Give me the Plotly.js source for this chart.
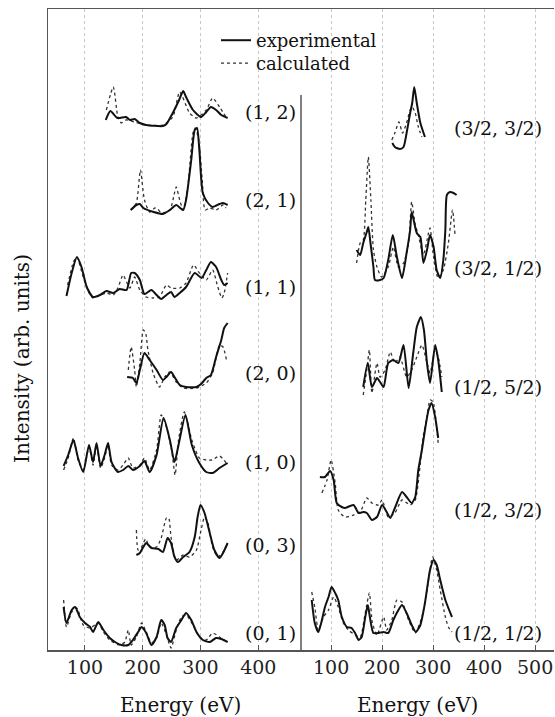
<!DOCTYPE html>
<html>
<head>
<meta charset="utf-8">
<script src="https://cdn.plot.ly/plotly-3.0.1.min.js"></script>
<style>html,body{margin:0;padding:0;background:#fff;}#chart{width:555px;height:717px;}</style>
</head>
<body>
<div id="chart"></div>
<script>
// ---------- data (energies in eV, intensities in arb. units above each baseline) ----------
const leftLabels  = ['(1, 2)', '(2, 1)', '(1, 1)', '(2, 0)', '(1, 0)', '(0, 3)', '(0, 1)'];
const rightLabels = ['(3/2, 3/2)', '(3/2, 1/2)', '(1/2, 5/2)', '(1/2, 3/2)', '(1/2, 1/2)'];
const leftOffsets  = [524, 436, 351, 262, 175, 88, 2];
const rightOffsets = [501, 370, 255, 130, 10];
const xTicksLeft  = [100, 200, 300, 400];
const xTicksRight = [100, 200, 300, 400, 500];

// (1, 2)
const expE_12 = [136,144,156,171,178,186,195,206,235,241,252,263,270,275,287,301,310,318,327,336,347];
const expI_12 = [6,15,8,9,6,7,3,1,0,2,13,26,35,29,16,9,14,19,16,11,8];
const calE_12 = [137,149,157,163,171,186,206,235,252,264,281,293,310,321,333,344];
const calI_12 = [16,39,9,3,6,4,1,1,9,34,13,8,16,28,19,9];
// (2, 1)
const expE_21 = [179,189,195,201,219,235,247,258,270,275,284,290,294,298,304,313,321,333,339,347];
const expI_21 = [4,9,10,6,2,0,4,9,4,14,54,84,86,64,21,11,7,10,11,9];
const calE_21 = [180,189,196,203,212,221,226,232,247,255,258,264,270,278,287,291,297,303,308,316,327,339,344];
const calI_21 = [4,11,44,14,2,6,5,1,4,21,27,14,4,27,81,86,74,34,4,6,4,9,6];
// (1, 1)
const expE_11 = [68,77,86,94,103,114,126,137,149,160,172,180,186,195,203,215,224,232,241,249,255,264,275,290,302,310,318,327,336,341,347];
const expI_11 = [3,26,42,32,12,2,4,8,6,10,9,26,26,19,5,9,4,0,4,7,2,6,12,26,21,29,37,32,19,14,16];
const calE_11 = [70,80,86,97,109,114,126,137,149,157,166,172,178,186,195,206,218,229,241,249,264,275,288,298,310,321,330,337,341,347];
const calI_11 = [14,37,42,22,4,1,4,6,4,11,24,17,11,22,9,2,1,2,14,11,11,16,34,26,19,29,12,1,6,26];
// (2, 0)
const expE_20 = [173,183,189,195,203,212,224,235,241,249,255,264,275,293,301,310,318,327,336,341,347];
const expI_20 = [11,10,5,18,35,28,18,8,11,16,11,3,1,1,4,10,13,31,48,60,65];
const calE_20 = [175,180,186,189,195,201,205,209,218,229,238,247,258,270,293,310,321,333,339,345];
const calI_20 = [18,41,18,1,25,58,55,38,15,1,11,16,6,0,0,5,15,43,41,28];
// (1, 0)
const expE_10 = [63,71,80,88,97,107,114,120,127,134,140,146,157,166,175,183,195,203,212,224,236,247,255,262,274,285,298,310,321,333,347];
const expI_10 = [9,20,35,17,3,30,13,32,9,20,32,13,3,5,9,5,9,14,3,20,57,35,13,30,60,30,12,3,2,7,12];
const calE_10 = [63,71,80,88,97,107,114,120,127,134,140,146,157,166,175,183,195,203,212,224,232,240,250,256,262,272,285,298,310,320,333,347];
const calI_10 = [5,17,37,15,5,28,10,30,7,17,30,10,5,10,17,7,10,17,5,25,60,50,25,0,35,63,35,17,15,15,19,10];
// (0, 3)
const expE_03 = [189,195,201,206,215,227,235,243,249,255,261,270,281,290,295,300,307,316,324,333,339,347];
const expI_03 = [7,9,15,19,14,13,10,24,19,5,0,5,10,25,45,57,49,29,12,4,9,19];
const calE_03 = [189,192,198,205,212,224,232,241,245,249,258,270,281,293,301,307,313,321,330,339,346];
const calI_03 = [32,12,15,23,15,15,24,44,44,25,2,7,5,12,32,45,39,15,5,10,17];
// (0, 1)
const expE_01 = [63,68,77,83,91,100,109,114,123,132,143,152,163,175,183,192,198,206,215,224,232,238,243,249,258,267,275,284,293,304,316,327,336,347];
const expI_01 = [41,25,38,41,31,25,21,16,26,18,10,6,3,3,8,16,21,15,3,11,28,23,10,6,20,28,35,28,16,8,6,10,9,6];
const calE_01 = [63,68,77,86,97,109,123,132,143,160,169,175,180,189,198,206,215,224,232,241,249,258,267,275,287,298,310,321,333,347];
const calI_01 = [48,21,36,40,23,20,25,16,8,3,6,18,3,11,25,16,5,10,25,13,0,18,31,33,23,11,8,15,11,6];

// (3/2, 3/2)
const expE_3232 = [220,225,235,242,248,255,259,263,268,275,284];
const expI_3232 = [6,2,0,2,16,36,46,62,46,26,12];
const calE_3232 = [219,225,233,240,248,255,259,265,271,278];
const calI_3232 = [9,16,27,16,26,39,42,36,22,12];
// (3/2, 1/2)
const expE_3212 = [150,157,163,170,173,177,183,186,196,203,212,221,229,239,248,255,258,268,275,281,288,294,301,307,314,320,324,327,333,340,346];
const expI_3212 = [30,25,37,48,53,38,13,0,0,2,20,45,23,2,27,50,68,47,43,17,30,45,33,10,2,20,50,85,88,87,85];
const calE_3212 = [150,157,163,168,173,178,183,190,199,212,222,232,242,252,258,265,271,281,291,294,301,310,320,330,338,343];
const calI_3212 = [17,37,40,80,123,80,30,13,3,13,33,13,17,37,78,55,45,25,47,52,23,2,10,37,70,45];
// (1/2, 5/2)
const expE_1252 = [163,172,180,190,196,203,212,222,232,242,252,261,268,276,282,288,294,304,310,317];
const expI_1252 = [8,32,8,17,13,8,32,35,32,50,7,42,68,78,65,32,12,50,35,3];
const calE_1252 = [163,170,175,180,190,196,206,216,225,235,248,258,268,278,288,294,304,310,317];
const calI_1252 = [0,25,45,2,32,18,25,43,32,38,18,25,38,50,32,22,45,38,18];
// (1/2, 3/2)
const expE_1232 = [78,88,98,105,111,121,127,144,154,163,170,180,190,200,209,216,225,239,248,258,265,271,278,284,291,297,304,310];
const expI_1232 = [43,43,49,40,17,13,12,15,7,8,7,0,3,15,8,2,12,28,23,17,23,50,70,90,110,117,103,82];
const calE_1232 = [82,92,100,108,114,127,144,157,170,180,193,200,212,225,239,255,265,275,281,288,294,300,306,310];
const calI_1232 = [27,40,60,37,10,3,5,8,22,17,15,20,3,7,20,15,20,57,85,103,120,118,97,77];
// (1/2, 1/2)
const expE_1212 = [62,68,75,82,88,95,101,108,114,121,131,140,147,154,160,167,172,176,183,193,203,212,222,232,239,248,258,266,275,284,294,301,307,314,324,337];
const expI_1212 = [40,17,8,20,33,43,53,47,40,23,13,12,7,0,3,23,35,23,7,7,8,7,20,30,35,27,15,8,15,37,70,80,75,60,40,23];
const calE_1212 = [62,68,75,85,95,105,114,124,134,147,157,167,175,181,190,203,209,219,229,239,252,265,278,288,299,307,314,324,330,337];
const calI_1212 = [48,33,10,23,30,43,33,17,10,5,3,27,47,17,5,23,10,20,40,38,20,7,23,50,83,70,50,23,13,8];

// ---------- assembly ----------
const leftSpectra = [
  [expE_12, expI_12, calE_12, calI_12],
  [expE_21, expI_21, calE_21, calI_21],
  [expE_11, expI_11, calE_11, calI_11],
  [expE_20, expI_20, calE_20, calI_20],
  [expE_10, expI_10, calE_10, calI_10],
  [expE_03, expI_03, calE_03, calI_03],
  [expE_01, expI_01, calE_01, calI_01]
];
const rightSpectra = [
  [expE_3232, expI_3232, calE_3232, calI_3232],
  [expE_3212, expI_3212, calE_3212, calI_3212],
  [expE_1252, expI_1252, calE_1252, calI_1252],
  [expE_1232, expI_1232, calE_1232, calI_1232],
  [expE_1212, expI_1212, calE_1212, calI_1212]
];

// label placement (layout, not data)
const leftLabelY  = [538, 450, 363, 277, 188, 105, 17];
const rightLabelY = [522, 382, 263, 140, 17];
const leftLabelX = 373, rightLabelX = 337;

const FONT = "'DejaVu Serif', serif";
const traces = [];
let legendDone = false;
function addSpectra(list, offsets, xa) {
  list.forEach((s, i) => {
    const off = offsets[i];
    traces.push({
      x: s[2], y: s[3].map(v => v + off), xaxis: xa, yaxis: 'y',
      type: 'scatter', mode: 'lines', name: 'calculated', legend: 'legend2',
      line: {color: '#333', width: 1.3, dash: 'dot', shape: 'spline', smoothing: 0.6},
      showlegend: !legendDone, hoverinfo: 'skip'
    });
    traces.push({
      x: s[0], y: s[1].map(v => v + off), xaxis: xa, yaxis: 'y',
      type: 'scatter', mode: 'lines', name: 'experimental', legend: 'legend',
      line: {color: '#111', width: 2, shape: 'spline', smoothing: 0.6},
      showlegend: !legendDone, hoverinfo: 'skip'
    });
    legendDone = true;
  });
}
addSpectra(leftSpectra, leftOffsets, 'x');
addSpectra(rightSpectra, rightOffsets, 'x2');

const annotations = [];
leftLabels.forEach((t, i) => annotations.push({
  text: t, xref: 'x', yref: 'y', x: leftLabelX, y: leftLabelY[i],
  xanchor: 'left', yanchor: 'middle', showarrow: false, font: {family: FONT, size: 19, color: '#111'}
}));
rightLabels.forEach((t, i) => annotations.push({
  text: t, xref: 'x2', yref: 'y', x: rightLabelX, y: rightLabelY[i],
  xanchor: 'left', yanchor: 'middle', showarrow: false, font: {family: FONT, size: 19, color: '#111'}
}));
annotations.push({text: 'Energy (eV)', xref: 'paper', yref: 'paper', x: 0.261, y: -0.0858,
  xanchor: 'center', yanchor: 'middle', showarrow: false, font: {family: FONT, size: 20, color: '#111'}});
annotations.push({text: 'Energy (eV)', xref: 'paper', yref: 'paper', x: 0.731, y: -0.0858,
  xanchor: 'center', yanchor: 'middle', showarrow: false, font: {family: FONT, size: 20, color: '#111'}});
annotations.push({text: 'Intensity (arb. units)', xref: 'paper', yref: 'paper', x: -0.0514, y: 0.4555,
  xanchor: 'center', yanchor: 'middle', textangle: -90, showarrow: false, font: {family: FONT, size: 20, color: '#111'}});

const axisCommon = {
  ticks: 'inside', ticklen: 5, tickwidth: 1, tickcolor: '#555',
  showgrid: true, gridcolor: '#c8c8c8', griddash: 'dot', gridwidth: 1,
  showline: true, linecolor: '#555', linewidth: 1.5, mirror: true,
  zeroline: false, tickfont: {family: FONT, size: 19, color: '#222'}, fixedrange: true
};
const legendCommon = {xanchor: 'left', yanchor: 'top', bgcolor: 'rgba(0,0,0,0)',
  font: {family: FONT, size: 18, color: '#111'}, itemwidth: 30};

const layout = {
  width: 555, height: 717,
  margin: {l: 48, r: 1, t: 9, b: 67},
  paper_bgcolor: '#fff', plot_bgcolor: '#fff',
  showlegend: true,
  legend: Object.assign({}, legendCommon, {x: 0.332, y: 0.9797}),
  legend2: Object.assign({}, legendCommon, {x: 0.332, y: 0.9438}),
  xaxis: Object.assign({}, axisCommon, {domain: [0, 0.5], range: [36, 474], tickvals: xTicksLeft, anchor: 'y'}),
  xaxis2: Object.assign({}, axisCommon, {domain: [0.5, 1], range: [41, 537], tickvals: xTicksRight, anchor: 'y'}),
  yaxis: {range: [0, 641], showline: true, linecolor: '#555', linewidth: 1.5, showticklabels: false,
    showgrid: false, zeroline: false, ticks: '', fixedrange: true},
  shapes: [{type: 'line', xref: 'paper', yref: 'paper', x0: 0.5, x1: 0.5, y0: 0, y1: 0.866,
    line: {color: '#555', width: 1.5}}],
  annotations: annotations
};

Plotly.newPlot('chart', traces, layout, {staticPlot: true, displayModeBar: false});
</script>
</body>
</html>
